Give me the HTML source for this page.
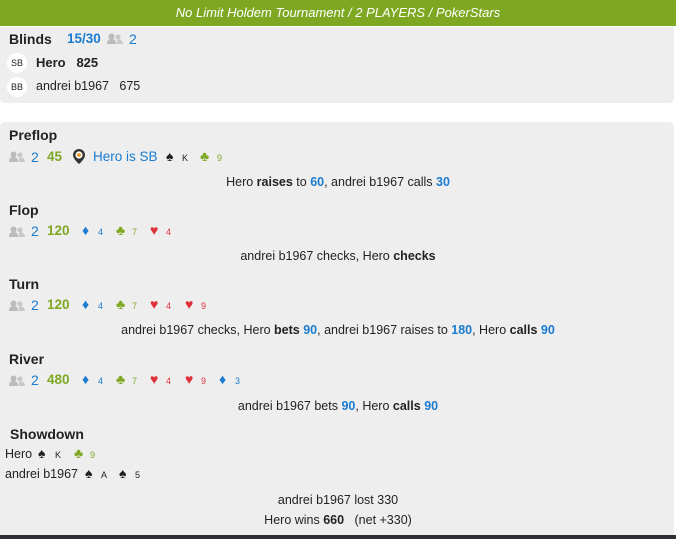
<!DOCTYPE html>
<html><head><meta charset="utf-8"><style>
*{margin:0;padding:0;box-sizing:border-box}
body{width:676px;height:539px;background:#fff;font-family:"Liberation Sans",Arial,sans-serif;font-size:12.5px;color:#222;position:relative;overflow:hidden}
.a{position:absolute;white-space:nowrap;line-height:16px}
.hdr{position:absolute;left:0;top:0;width:676px;height:26px;background:#7fa822;color:#fff;font-style:italic;font-size:13px;text-align:center;line-height:26px}
.p{position:absolute;left:0;width:674px;background:#eeeeee;border-radius:0 0 5px 5px}
h{position:absolute;font-weight:bold;font-size:14px;color:#222;line-height:16px;white-space:nowrap}
.b{color:#1a7bd0}.g{color:#7fa822;font-weight:bold}.r{color:#e0303a}.gr{color:#7fa822}
.sm{font-size:9px}
.s{font-size:14px}
.c{position:absolute;left:0;width:676px;text-align:center;line-height:16px;white-space:nowrap}
.c b{color:#222}.c .n{color:#1a7bd0;font-weight:bold}
.circ{position:absolute;width:20px;height:20px;border-radius:10px;background:#fff;font-size:9px;text-align:center;line-height:20px;color:#222}
.bot{position:absolute;left:0;top:535px;width:676px;height:4px;background:#2d3035}
</style></head><body>
<div class="hdr">No Limit Holdem Tournament / 2 PLAYERS / PokerStars</div>
<div class="p" style="top:27px;height:76px"></div>
<div class="p" style="top:122px;height:413px;border-radius:5px 5px 0 0"></div>
<div class="bot"></div>

<svg width="0" height="0" style="position:absolute"><defs><g id="u"><circle cx="4.5" cy="3.5" r="3" fill="#bbb"/><path d="M0 11c0-4 2-5 4.5-5S9 7 9 11z" fill="#bbb"/><circle cx="11" cy="4" r="2.6" fill="#c8c8c8"/><path d="M9.5 11c0-3 1-4.5 2.5-4.5S16 8 16 11z" fill="#c8c8c8"/></g></defs></svg>

<h style="left:9px;top:31px">Blinds</h>
<div class="a b" style="left:67px;top:31px;font-weight:bold;font-size:13.5px">15/30</div>
<svg class="a" style="left:107px;top:33px" width="17" height="12"><use href="#u"/></svg>
<div class="a b" style="left:129px;top:31px;font-size:14px">2</div>
<div class="circ" style="left:7px;top:53px">SB</div>
<div class="a" style="left:36px;top:55px;font-weight:bold;font-size:13px">Hero&nbsp;&nbsp;&nbsp;825</div>
<div class="circ" style="left:7px;top:77px">BB</div>
<div class="a" style="left:36px;top:78px">andrei b1967&nbsp;&nbsp;&nbsp;675</div>

<h style="left:9px;top:127px">Preflop</h>
<svg class="a" style="left:9px;top:151px" width="17" height="12"><use href="#u"/></svg>
<div class="a b" style="left:31px;top:149px;font-size:14px">2</div>
<div class="a g" style="left:47px;top:149px;font-size:13.5px">45</div>
<svg class="a" style="left:72px;top:148px" width="14" height="17"><path d="M7 1a6 6 0 0 1 6 6c0 4-6 9-6 9S1 11 1 7a6 6 0 0 1 6-6z" fill="#333"/><circle cx="7" cy="7" r="3.6" fill="#fff"/><circle cx="7" cy="7" r="2" fill="#f0a030"/></svg>
<div class="a b" style="left:93px;top:149px;font-size:13.5px">Hero is SB</div>
<div class="a s" style="left:166px;top:148px">♠</div><div class="a sm" style="left:182px;top:150px">K</div>
<div class="a gr s" style="left:200px;top:148px">♣</div><div class="a sm gr" style="left:217px;top:150px">9</div>
<div class="c" style="top:174px">Hero <b>raises</b> to <span class="n">60</span>, andrei b1967 calls <span class="n">30</span></div>

<h style="left:9px;top:202px">Flop</h>
<svg class="a" style="left:9px;top:226px" width="17" height="12"><use href="#u"/></svg>
<div class="a b" style="left:31px;top:223px;font-size:14px">2</div>
<div class="a g" style="left:47px;top:223px;font-size:13.5px">120</div>
<div class="a b s" style="left:82px;top:222px">♦</div><div class="a sm b" style="left:98px;top:224px">4</div>
<div class="a gr s" style="left:116px;top:222px">♣</div><div class="a sm gr" style="left:132px;top:224px">7</div>
<div class="a r s" style="left:150px;top:222px">♥</div><div class="a sm r" style="left:166px;top:224px">4</div>
<div class="c" style="top:248px">andrei b1967 checks, Hero <b>checks</b></div>

<h style="left:9px;top:276px">Turn</h>
<svg class="a" style="left:9px;top:300px" width="17" height="12"><use href="#u"/></svg>
<div class="a b" style="left:31px;top:297px;font-size:14px">2</div>
<div class="a g" style="left:47px;top:297px;font-size:13.5px">120</div>
<div class="a b s" style="left:82px;top:296px">♦</div><div class="a sm b" style="left:98px;top:298px">4</div>
<div class="a gr s" style="left:116px;top:296px">♣</div><div class="a sm gr" style="left:132px;top:298px">7</div>
<div class="a r s" style="left:150px;top:296px">♥</div><div class="a sm r" style="left:166px;top:298px">4</div>
<div class="a r s" style="left:185px;top:296px">♥</div><div class="a sm r" style="left:201px;top:298px">9</div>
<div class="c" style="top:322px">andrei b1967 checks, Hero <b>bets</b> <span class="n">90</span>, andrei b1967 raises to <span class="n">180</span>, Hero <b>calls</b> <span class="n">90</span></div>

<h style="left:9px;top:351px">River</h>
<svg class="a" style="left:9px;top:375px" width="17" height="12"><use href="#u"/></svg>
<div class="a b" style="left:31px;top:372px;font-size:14px">2</div>
<div class="a g" style="left:47px;top:372px;font-size:13.5px">480</div>
<div class="a b s" style="left:82px;top:371px">♦</div><div class="a sm b" style="left:98px;top:373px">4</div>
<div class="a gr s" style="left:116px;top:371px">♣</div><div class="a sm gr" style="left:132px;top:373px">7</div>
<div class="a r s" style="left:150px;top:371px">♥</div><div class="a sm r" style="left:166px;top:373px">4</div>
<div class="a r s" style="left:185px;top:371px">♥</div><div class="a sm r" style="left:201px;top:373px">9</div>
<div class="a b s" style="left:219px;top:371px">♦</div><div class="a sm b" style="left:235px;top:373px">3</div>
<div class="c" style="top:398px">andrei b1967 bets <span class="n">90</span>, Hero <b>calls</b> <span class="n">90</span></div>

<h style="left:10px;top:426px">Showdown</h>
<div class="a" style="left:5px;top:446px">Hero</div>
<div class="a s" style="left:38px;top:445px">♠</div><div class="a sm" style="left:55px;top:447px">K</div>
<div class="a gr s" style="left:74px;top:445px">♣</div><div class="a sm gr" style="left:90px;top:447px">9</div>
<div class="a" style="left:5px;top:466px">andrei b1967</div>
<div class="a s" style="left:85px;top:465px">♠</div><div class="a sm" style="left:101px;top:467px">A</div>
<div class="a s" style="left:119px;top:465px">♠</div><div class="a sm" style="left:135px;top:467px">5</div>
<div class="c" style="top:492px">andrei b1967 lost 330</div>
<div class="c" style="top:512px">Hero wins <b>660</b>&nbsp;&nbsp;&nbsp;(net +330)</div>
</body></html>
